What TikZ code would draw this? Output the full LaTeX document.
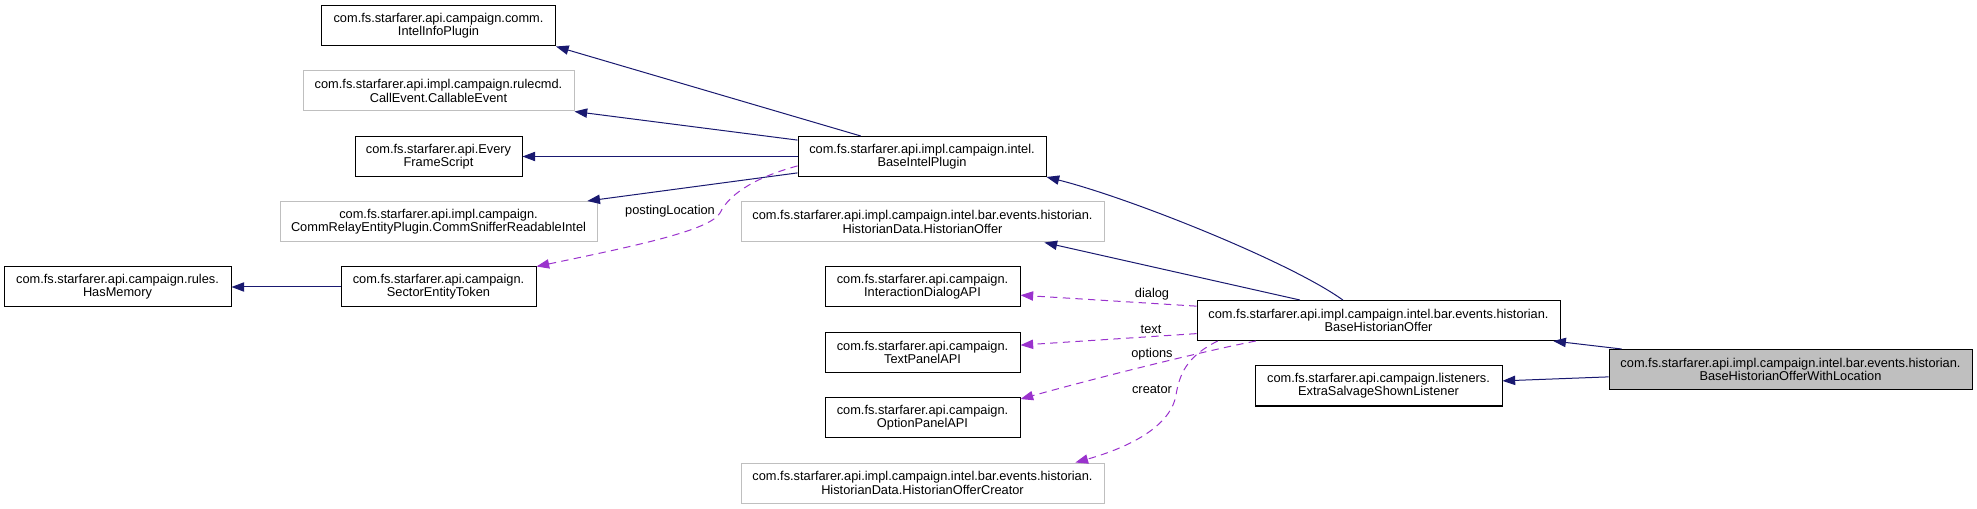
\documentclass[tikz,border=0pt]{standalone}
\usepackage{fontspec}
\setmainfont{Liberation Sans}
\usetikzlibrary{arrows.meta,calc}

\definecolor{edgeblue}{HTML}{191970}
\definecolor{edgepurple}{HTML}{9A32CD}
\definecolor{boxgray}{HTML}{BFBFBF}

\begin{document}
\begin{tikzpicture}[
  x=0.75pt, y=-0.75pt,
  font=\fontsize{9.6}{10}\selectfont,
  cls/.style={draw=black, fill=white, line width=0.75pt, align=center, inner sep=0pt,
    minimum height=30pt, minimum width=#1*0.75pt},
  ext/.style={cls=#1, draw=boxgray},
  self/.style={cls=#1, fill=boxgray},
  inh/.style={-{Triangle[length=9.5pt, width=7pt]}, line width=0.75pt, draw=edgeblue},
  uses/.style={-{Triangle[length=9.5pt, width=7pt]}, line width=0.75pt, draw=edgepurple,
    dash pattern=on 5.5pt off 4pt},
  lbl/.style={inner sep=0pt}
]
\useasboundingbox (0,0) rectangle (1977,509);

% Left column.
\node[cls=234] (iip) at (438.5,26) {com.fs.starfarer.api.campaign.comm.\\IntelInfoPlugin};
\node[ext=271] (cce) at (438.5,91) {com.fs.starfarer.api.impl.campaign.rulecmd.\\CallEvent.CallableEvent};
\node[cls=167] (efs) at (438.5,156.5) {com.fs.starfarer.api.Every\\FrameScript};
\node[ext=317] (csri) at (438.5,221.5) {com.fs.starfarer.api.impl.campaign.\\CommRelayEntityPlugin.CommSnifferReadableIntel};
\node[cls=227] (hm) at (117.5,287) {com.fs.starfarer.api.campaign.rules.\\HasMemory};
\node[cls=195] (set) at (438.5,287) {com.fs.starfarer.api.campaign.\\SectorEntityToken};

% Middle column.
\node[cls=248] (bip) at (922,156.5) {com.fs.starfarer.api.impl.campaign.intel.\\BaseIntelPlugin};
\node[ext=363] (ho) at (922.5,222) {com.fs.starfarer.api.impl.campaign.intel.bar.events.historian.\\HistorianData.HistorianOffer};
\node[cls=195] (idapi) at (922.5,287) {com.fs.starfarer.api.campaign.\\InteractionDialogAPI};
\node[cls=195] (tpapi) at (922.5,352.5) {com.fs.starfarer.api.campaign.\\TextPanelAPI};
\node[cls=195] (opapi) at (922.5,417.5) {com.fs.starfarer.api.campaign.\\OptionPanelAPI};
\node[ext=363] (hoc) at (922.5,483) {com.fs.starfarer.api.impl.campaign.intel.bar.events.historian.\\HistorianData.HistorianOfferCreator};

% Right columns.
\node[cls=363] (bho) at (1378.5,320.5) {com.fs.starfarer.api.impl.campaign.intel.bar.events.historian.\\BaseHistorianOffer};
\node[cls=247] (essl) at (1378.5,386) {com.fs.starfarer.api.campaign.listeners.\\ExtraSalvageShownListener};
\node[self=363] (bhowl) at (1790.5,369.5) {com.fs.starfarer.api.impl.campaign.intel.bar.events.historian.\\BaseHistorianOfferWithLocation};

% Inheritance.
\draw[inh] ($(bip.north west)!0.254!(bip.north east)$) -- (iip.south east);
\draw[inh] ($(bip.north west)!0.1!(bip.south west)$) -- (cce.south east);
\draw[inh] (bip.west) -- (efs.east);
\draw[inh] ($(bip.north west)!0.9!(bip.south west)$) -- ($(csri.north west)!0.968!(csri.north east)$);
\draw[inh] (set.west) -- (hm.east);
\draw[inh] ($(bho.north west)!0.402!(bho.north east)$) .. controls (1290,262) and (1130,198) .. (bip.south east);
\draw[inh] ($(bho.north west)!0.284!(bho.north east)$) -- ($(ho.south west)!0.835!(ho.south east)$);
\draw[inh] ($(bhowl.north west)!0.036!(bhowl.north east)$) -- ($(bho.south west)!0.98!(bho.south east)$);
\draw[inh] ($(bhowl.north west)!0.68!(bhowl.south west)$) -- ($(essl.north east)!0.375!(essl.south east)$);

% Usage.
\draw[uses] ($(bip.north west)!0.73!(bip.south west)$) .. controls (760,176) and (730,192) .. (720,213)
  .. controls (710,230) and (640,245) .. (set.north east);
\draw[uses] ($(bho.north west)!0.15!(bho.south west)$) -- ($(idapi.north east)!0.7!(idapi.south east)$);
\draw[uses] ($(bho.north west)!0.82!(bho.south west)$) -- ($(tpapi.north east)!0.32!(tpapi.south east)$);
\draw[uses] ($(bho.south west)!0.163!(bho.south east)$) .. controls (1200,352) and (1100,377)
  .. ($(opapi.north east)!0.05!(opapi.south east)$);
\draw[uses] ($(bho.south west)!0.058!(bho.south east)$) .. controls (1190,355) and (1180,370) .. (1176,395)
  .. controls (1170,430) and (1120,450) .. ($(hoc.north west)!0.92!(hoc.north east)$);

\node[lbl] (lposting) at (670,211) {postingLocation};
\node[lbl] (ldialog) at (1152,294) {dialog};
\node[lbl] (ltext) at (1151,329) {text};
\node[lbl] (loptions) at (1152,354) {options};
\node[lbl] (lcreator) at (1152,389) {creator};

\end{tikzpicture}
\end{document}
